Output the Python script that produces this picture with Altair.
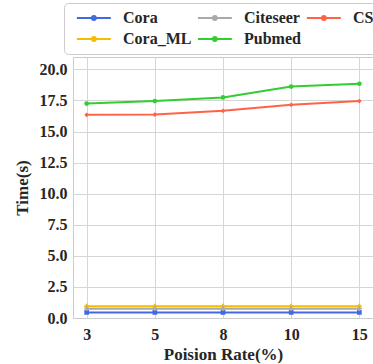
import altair as alt
import pandas as pd

rates = ["3", "5", "8", "10", "15"]
series_names = ["Cora", "Cora_ML", "Citeseer", "Pubmed", "CS"]
cora = [0.45, 0.45, 0.45, 0.45, 0.45]
cora_ml = [0.95, 0.95, 0.95, 0.95, 0.95]
citeseer = [0.75, 0.75, 0.75, 0.75, 0.75]
pubmed = [17.25, 17.45, 17.75, 18.62, 18.85]
cs = [16.35, 16.37, 16.67, 17.15, 17.45]

legend_order = ["Cora", "Citeseer", "CS", "Cora_ML", "Pubmed"]
legend_colors = ["#4169e1", "#a9a9a9", "#ff6347", "#f5bc00", "#32cd32"]
series_shapes = {"Cora": "square", "Cora_ML": "cross", "Citeseer": "cross",
                 "Pubmed": "circle", "CS": "diamond"}
series_colors = dict(zip(legend_order, legend_colors))

values = {"Cora": cora, "Cora_ML": cora_ml, "Citeseer": citeseer, "Pubmed": pubmed, "CS": cs}
rows = []
for s in series_names:
    for r, v in zip(rates, values[s]):
        rows.append({"rate": r, "time": v, "series": s})
df = pd.DataFrame(rows)

FONT = "Liberation Serif"

x = alt.X("rate:O", sort=rates, title="Poision Rate(%)",
          scale=alt.Scale(type="point", padding=0.2),
          axis=alt.Axis(labelAngle=0, labelPadding=8, titlePadding=4))
y = alt.Y("time:Q", title="Time(s)",
          scale=alt.Scale(domain=[0, 21], nice=False, zero=True),
          axis=alt.Axis(values=[0, 2.5, 5, 7.5, 10, 12.5, 15, 17.5, 20], format=".1f",
                        labelPadding=6, titlePadding=8))
color = alt.Color("series:N", scale=alt.Scale(domain=legend_order, range=legend_colors),
                  legend=alt.Legend(title=None, orient="none", legendX=-9, legendY=-54,
                                    columns=3, direction="horizontal",
                                    symbolType="M-0.5,0H7.5M3.05,0A0.45,0.45 0 1,0 3.95,0A0.45,0.45 0 1,0 3.05,0",
                                    symbolSize=72, symbolStrokeWidth=2,
                                    labelFont=FONT, labelFontSize=16, labelFontWeight="bold",
                                    labelColor="#262626", labelOffset=36,
                                    columnPadding=-2, rowPadding=5,
                                    strokeColor="#cccccc", fillColor="white",
                                    padding=7, cornerRadius=4))

lines = alt.Chart(df).mark_line(strokeWidth=2).encode(x=x, y=y, color=color, detail="series:N")
layers = [lines]
for s in series_names:
    layers.append(
        alt.Chart(df).transform_filter(alt.datum.series == s)
        .mark_point(filled=True, size=22, opacity=1, shape=series_shapes[s], color=series_colors[s])
        .encode(x=x, y=y)
    )

chart = alt.layer(*layers).properties(
    width=300, height=261,
    autosize=alt.AutoSizeParams(type="none"),
    padding={"left": 73, "top": 57, "right": 0, "bottom": 46},
).configure_view(stroke="#cccccc", strokeWidth=1).configure_axis(
    labelFont=FONT, labelFontSize=16, labelFontWeight="bold", labelColor="#262626",
    titleFont=FONT, titleFontSize=17, titleFontWeight="bold", titleColor="#262626",
    grid=True, gridColor="#d6d6d6", gridWidth=1, domainColor="#cccccc", ticks=False,
)

chart.save("out.html", embed_options={"renderer": "svg", "actions": False})
